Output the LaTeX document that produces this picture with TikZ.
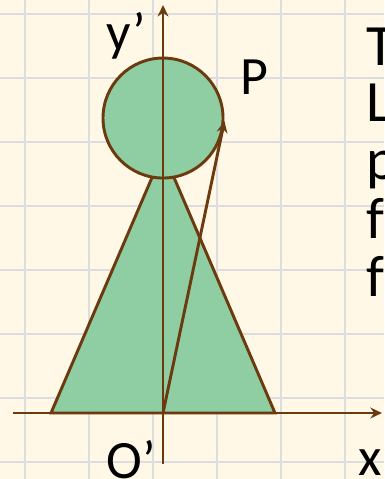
\documentclass[tikz,border=0pt]{standalone}
\usepackage{fontspec}
\setmainfont{Carlito}
\usetikzlibrary{arrows.meta,calc}

\definecolor{paper}{HTML}{FFF8E6}
\definecolor{gridgray}{HTML}{DDDDE0}
\definecolor{figgreen}{HTML}{8FCEA3}
\definecolor{axisbrown}{HTML}{6B3A0E}

\begin{document}
\begin{tikzpicture}[
  axis/.style={draw=axisbrown, line width=1.3pt},
  body/.style={draw=axisbrown, fill=figgreen, line width=1.3pt},
  tip/.style={-{Stealth[length=0.18cm, width=0.17cm]}},
  lbl/.style={inner sep=0pt, anchor=base west, font=\fontsize{24}{24}\selectfont},
  txt/.style={inner sep=0pt, anchor=base west, font=\fontsize{26}{26}\selectfont},
]
\useasboundingbox (-2.547,-1.031) rectangle (3.453,6.453);
\fill[paper] (-2.547,-1.031) rectangle (3.453,6.453);

% grid paper
\foreach \i in {0,...,5}
  \draw[gridgray, line width=1pt] (-2.156+\i,-1.031) -- (-2.156+\i,6.453);
\foreach \j in {0,...,7}
  \draw[gridgray, line width=1pt] (-2.547,-0.766+\j) -- (3.453,-0.766+\j);

\coordinate (O) at (0,0);
\coordinate (xstart) at (-2.344,0);
\coordinate (xend) at (3.42,0);
\coordinate (ystart) at (0,-0.797);
\coordinate (yend) at (0,6.375);
\coordinate (baseleft) at (-1.75,0);
\coordinate (baseright) at (1.75,0);
\coordinate (apex) at (0,4.08);
\coordinate (P) at (0.96,4.56);

% figure
\filldraw[body] (baseleft) -- (apex) -- (baseright) -- cycle;
\node[body, circle, minimum size=1.875cm, inner sep=0pt] (head) at (0,4.609) {};

% axes
\draw[axis, tip] (xstart) -- (xend);
\draw[axis, tip] (ystart) -- (yend);
\draw[axis, tip] (O) -- (P);

\node[lbl] (ylabel) at (-0.89,5.67) {y’};
\node[lbl] (plabel) at (1.203,4.97) {P};
\node[lbl] (olabel) at (-0.89,-1.03) {O’};
\node[lbl] (xlabel) at (3.05,-0.97) {x};

% text running off the right edge
\begin{scope}
  \clip (-2.547,-1.031) rectangle (3.453,6.453);
  \node[txt] (line1) at (3.18,5.4375) {T};
  \node[txt] (line2) at (3.18,4.547) {L};
  \node[txt] (line3) at (3.18,3.641) {p};
  \node[txt] (line4) at (3.18,2.734) {f};
  \node[txt] (line5) at (3.18,1.828) {fo};
\end{scope}
\end{tikzpicture}
\end{document}
